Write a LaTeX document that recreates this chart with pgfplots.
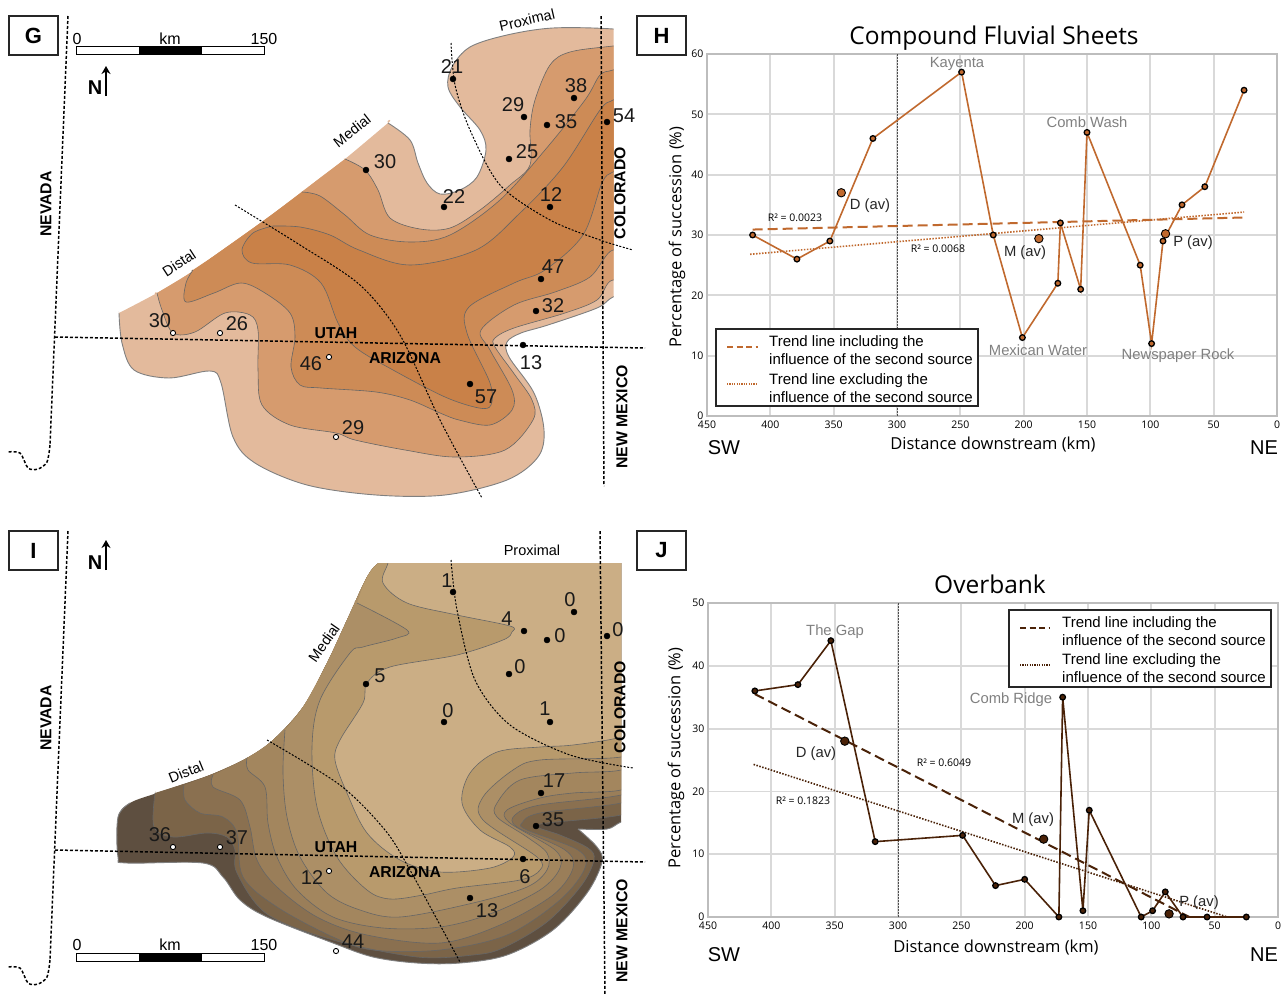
\documentclass[border=0pt]{standalone}
\usepackage{fontspec}
\usepackage{pgfplots}
\usetikzlibrary{arrows.meta}
\pgfplotsset{compat=1.18}
\setmainfont{Liberation Sans}
\newfontfamily\chartf{Open Sans}
\definecolor{ga}{HTML}{E3BA9C}\definecolor{gb}{HTML}{D69B6E}\definecolor{gc}{HTML}{CD8B56}\definecolor{gd}{HTML}{C98148}
\definecolor{ia}{HTML}{5E4F40}\definecolor{ib}{HTML}{7B6448}\definecolor{ic}{HTML}{8A7050}\definecolor{id}{HTML}{9A7E59}
\definecolor{ie}{HTML}{A3865E}\definecolor{if}{HTML}{AC8F66}\definecolor{ig}{HTML}{B89A6C}\definecolor{ih}{HTML}{CBAE85}
\definecolor{hc}{HTML}{C0692E}\definecolor{jc}{HTML}{4A2208}\definecolor{gl}{HTML}{D9D9D9}\definecolor{ax}{HTML}{BDBDBD}
\pgfplotsset{
 pix/.style={at={(0pt,0pt)},anchor=south west,scale only axis,width=1288pt,height=997pt,xmin=0,xmax=1288,ymin=0,ymax=997,y dir=reverse,hide axis,clip=false},
 reg/.style={fill=#1,draw=none,smooth,tension=0.55,no markers,forget plot},
 ct/.style={draw=black!60,line width=0.6pt,smooth,tension=0.55,no markers,forget plot},
 edge/.style={draw=black!50,line width=0.9pt,smooth,tension=0.55,no markers,forget plot},
 bd/.style={black,line width=1.5pt,dash pattern=on 3pt off 2pt,no markers,forget plot},
 arc/.style={black,line width=1pt,dash pattern=on 2pt off 1.6pt,smooth,no markers,forget plot},
 bdot/.style={only marks,mark=*,mark size=3pt,mark options={fill=black,draw=black},forget plot},
 wdot/.style={only marks,mark=*,mark size=2.6pt,mark options={fill=white,draw=black,line width=0.9pt},forget plot},
 chart/.style={scale only axis,width=570pt,x dir=reverse,xmin=0,xmax=450,ymin=0,xtick={0,50,...,450},
   grid=major,major grid style={gl,line width=1.8pt},axis line style={ax,line width=1.8pt},major tick length=0pt,
   tick label style={font=\chartf\fontsize{10.5}{12}\selectfont,/pgf/number format/assume math mode=true},
   xticklabel style={yshift=-1pt},clip=false},
}
\tikzset{
 num/.style={font=\fontsize{20}{22}\selectfont,text=black!90,inner sep=0pt},
 st/.style={font=\bfseries\fontsize{15.8}{18}\selectfont,inner sep=0pt},
 zone/.style={font=\fontsize{14.5}{16}\selectfont,inner sep=0pt},
 site/.style={font=\fontsize{14.8}{16}\selectfont,text=black!50,inner sep=0pt},
 av/.style={font=\fontsize{14.8}{16}\selectfont,text=black!85,inner sep=0pt},
 rr/.style={font=\chartf\fontsize{10.5}{12}\selectfont,inner sep=0pt},
 chl/.style={font=\chartf\fontsize{16.5}{18}\selectfont,inner sep=0pt},
 leg/.style={font=\fontsize{15}{16}\selectfont,anchor=west,inner sep=0pt},
 sc/.style={font=\fontsize{16}{18}\selectfont,inner sep=0pt},
}
\begin{document}
\begin{tikzpicture}
\path[use as bounding box] (0,0) rectangle (1288pt,997pt);
% ---------- MAP G (clipped at its straight right edge)
\begin{axis}[at={(0pt,497pt)},anchor=south west,scale only axis,width=613.5pt,height=500pt,xmin=0,xmax=613.5,ymin=0,ymax=500,y dir=reverse,hide axis,clip=true]
\addplot[reg=ga] coordinates {(119,313)(119,313)(122,343)(134,370)(169,378)(210,371)(221,383)(233,437)(255,463)(307,485)(376,495)(445,495)(507,480)(538,457)(544,430)(534,393)(509,357)(507,342)(521,333)(548,325)(597,308)(613,297)(650,280)(660,150)(650,35)(613,29)(553,28)(507,35)(470,47)(452,67)(448,87)(460,107)(480,130)(486,150)(477,177)(460,190)(440,194)(427,183)(418,163)(410,140)(388,123)(388,123)(345,159)(320,178)(270,216)(221,251)(190,273)(157,293)(119,313)} --cycle;
\addplot[reg=gb] coordinates {(345,159)(345,159)(365,170)(378,190)(390,218)(420,229)(450,228)(480,210)(510,185)(530,165)(530,130)(535,100)(550,65)(570,52)(613,46)(650,42)(660,150)(650,290)(613,280)(597,300)(565,313)(514,328)(495,338)(495,347)(515,375)(532,400)(533,420)(505,450)(455,457)(405,450)(355,440)(336,433)(290,425)(262,405)(258,370)(258,330)(250,315)(225,313)(195,332)(173,333)(162,310)(157,293)(157,293)(190,273)(221,251)(270,216)(320,178)(345,159)} --cycle;
\addplot[reg=gc] coordinates {(302,192)(302,192)(320,196)(345,215)(370,235)(410,242)(450,235)(500,200)(545,150)(585,100)(600,75)(613,70)(640,60)(660,150)(640,265)(613,250)(590,277)(555,292)(514,305)(481,330)(490,350)(512,390)(512,410)(490,425)(459,420)(440,413)(410,400)(376,392)(321,388)(300,385)(291,367)(295,337)(290,313)(265,293)(241,283)(214,293)(186,302)(186,283)(193,270)(193,270)(221,251)(270,216)(302,192)} --cycle;
\addplot[reg=gd] coordinates {(273,226)(300,227)(330,235)(359,250)(410,265)(476,250)(520,213)(563,167)(600,110)(613,100)(640,85)(660,130)(640,160)(613,172)(602,183)(583,235)(545,270)(514,283)(469,307)(467,333)(490,383)(491,405)(479,408)(445,397)(393,370)(355,347)(338,323)(321,283)(290,265)(252,263)(242,250)(253,233)(273,226)} --cycle;
\addplot[ct] coordinates {(345,159)(365,170)(378,190)(390,218)(420,229)(450,228)(480,210)(510,185)(530,165)(530,130)(535,100)(550,65)(570,52)(613,46)(650,42)};
\addplot[ct] coordinates {(650,290)(613,280)(597,300)(565,313)(514,328)(495,338)(495,347)(515,375)(532,400)(533,420)(505,450)(455,457)(405,450)(355,440)(336,433)(290,425)(262,405)(258,370)(258,330)(250,315)(225,313)(195,332)(173,333)(162,310)(157,293)};
\addplot[ct] coordinates {(302,192)(320,196)(345,215)(370,235)(410,242)(450,235)(500,200)(545,150)(585,100)(600,75)(613,70)(640,60)};
\addplot[ct] coordinates {(640,265)(613,250)(590,277)(555,292)(514,305)(481,330)(490,350)(512,390)(512,410)(490,425)(459,420)(440,413)(410,400)(376,392)(321,388)(300,385)(291,367)(295,337)(290,313)(265,293)(241,283)(214,293)(186,302)(186,283)(193,270)};
\addplot[ct] coordinates {(273,226)(300,227)(330,235)(359,250)(410,265)(476,250)(520,213)(563,167)(600,110)(613,100)(640,85)};
\addplot[ct] coordinates {(640,160)(613,172)(602,183)(583,235)(545,270)(514,283)(469,307)(467,333)(490,383)(491,405)(479,408)(445,397)(393,370)(355,347)(338,323)(321,283)(290,265)(252,263)(242,250)(253,233)(273,226)};
\addplot[edge] coordinates {(119,313)(122,343)(134,370)(169,378)(210,371)(221,383)(233,437)(255,463)(307,485)(376,495)(445,495)(507,480)(538,457)(544,430)(534,393)(509,357)(507,342)(521,333)(548,325)(597,308)(613,297)(650,280)};
\addplot[edge] coordinates {(650,35)(613,29)(553,28)(507,35)(470,47)(452,67)(448,87)(460,107)(480,130)(486,150)(477,177)(460,190)(440,194)(427,183)(418,163)(410,140)(388,123)};
\end{axis}
% ---------- MAP I (clipped at its straight top and right edges)
\begin{axis}[at={(0pt,0pt)},anchor=south west,scale only axis,width=621pt,height=434pt,xmin=0,xmax=621,ymin=563,ymax=997,y dir=reverse,hide axis,clip=true]
\addplot[reg=ia] coordinates {(367,577)(380,562)(400,555)(460,530)(560,530)(650,560)(670,700)(650,810)(621,822)(607,829)(578,829)(578,829)(597,847)(602,862)(587,893)(553,930)(507,955)(460,963)(417,963)(373,957)(333,943)(267,917)(240,900)(223,877)(203,863)(127,863)(118,857)(118,817)(130,803)(157,793)(210,775)(247,758)(273,740)(303,707)(327,663)(347,620)(367,577)} --cycle;
\addplot[reg=ib] coordinates {(155,793)(155,793)(154,827)(173,837)(207,833)(227,837)(235,850)(237,873)(267,914)(333,940)(417,957)(473,955)(503,948)(547,922)(581,886)(594,860)(588,848)(560,835)(537,827)(547,823)(621,815)(650,800)(670,700)(650,560)(560,530)(460,530)(400,555)(380,562)(367,577)(347,620)(327,663)(303,707)(273,740)(247,758)(210,775)(155,793)} --cycle;
\addplot[reg=ic] coordinates {(184,785)(184,785)(185,800)(200,813)(223,817)(237,833)(243,877)(277,907)(333,937)(373,950)(440,950)(507,935)(560,900)(585,868)(578,850)(527,830)(522,823)(540,813)(621,803)(650,788)(670,700)(650,560)(560,530)(460,530)(400,555)(380,562)(367,577)(347,620)(327,663)(303,707)(273,740)(247,758)(210,775)(184,785)} --cycle;
\addplot[reg=id] coordinates {(213,775)(213,775)(213,787)(240,800)(250,827)(257,860)(277,887)(317,917)(367,935)(440,943)(500,925)(553,895)(573,868)(565,850)(517,827)(515,815)(540,805)(621,795)(650,780)(670,700)(650,560)(560,530)(460,530)(400,555)(380,562)(367,577)(347,620)(327,663)(303,707)(273,740)(247,758)(213,775)} --cycle;
\addplot[reg=ie] coordinates {(247,758)(247,758)(248,770)(265,787)(268,823)(277,857)(297,890)(333,917)(383,928)(440,927)(490,914)(540,890)(560,868)(555,850)(510,823)(507,810)(540,798)(573,793)(621,790)(650,775)(670,700)(650,560)(560,530)(460,530)(400,555)(380,562)(367,577)(347,620)(327,663)(303,707)(273,740)(247,758)} --cycle;
\addplot[reg=if] coordinates {(285,730)(285,730)(283,773)(287,817)(300,857)(327,893)(360,910)(400,917)(473,903)(527,887)(547,870)(547,853)(527,837)(497,817)(497,803)(520,780)(573,773)(621,770)(650,755)(670,700)(650,560)(560,530)(460,530)(400,555)(380,562)(367,577)(347,620)(327,663)(303,707)(285,730)} --cycle;
\addplot[reg=ig] coordinates {(357,603)(357,603)(407,630)(397,638)(363,647)(350,653)(320,700)(312,747)(317,807)(337,857)(367,890)(390,899)(423,895)(457,888)(520,880)(540,870)(537,857)(483,820)(483,797)(513,770)(540,760)(621,757)(650,742)(670,650)(650,560)(560,530)(460,530)(400,555)(380,562)(367,577)(357,603)} --cycle;
\addplot[reg=ih] coordinates {(392,545)(388,563)(383,583)(407,603)(457,615)(510,626)(512,632)(503,640)(457,655)(390,667)(367,683)(363,703)(340,740)(335,760)(347,793)(367,833)(400,860)(440,872)(490,868)(513,857)(510,847)(480,830)(462,803)(470,773)(497,752)(540,747)(573,745)(621,737)(650,722)(670,640)(650,560)(560,530)(460,530)} --cycle;
\addplot[ct] coordinates {(392,545)(388,563)(383,583)(407,603)(457,615)(510,626)(512,632)(503,640)(457,655)(390,667)(367,683)(363,703)(340,740)(335,760)(347,793)(367,833)(400,860)(440,872)(490,868)(513,857)(510,847)(480,830)(462,803)(470,773)(497,752)(540,747)(573,745)(621,737)(650,722)};
\addplot[ct] coordinates {(357,603)(407,630)(397,638)(363,647)(350,653)(320,700)(312,747)(317,807)(337,857)(367,890)(390,899)(423,895)(457,888)(520,880)(540,870)(537,857)(483,820)(483,797)(513,770)(540,760)(621,757)(650,742)};
\addplot[ct] coordinates {(285,730)(283,773)(287,817)(300,857)(327,893)(360,910)(400,917)(473,903)(527,887)(547,870)(547,853)(527,837)(497,817)(497,803)(520,780)(573,773)(621,770)(650,755)};
\addplot[ct] coordinates {(247,758)(248,770)(265,787)(268,823)(277,857)(297,890)(333,917)(383,928)(440,927)(490,914)(540,890)(560,868)(555,850)(510,823)(507,810)(540,798)(573,793)(621,790)(650,775)};
\addplot[ct] coordinates {(213,775)(213,787)(240,800)(250,827)(257,860)(277,887)(317,917)(367,935)(440,943)(500,925)(553,895)(573,868)(565,850)(517,827)(515,815)(540,805)(621,795)(650,780)};
\addplot[ct] coordinates {(184,785)(185,800)(200,813)(223,817)(237,833)(243,877)(277,907)(333,937)(373,950)(440,950)(507,935)(560,900)(585,868)(578,850)(527,830)(522,823)(540,813)(621,803)(650,788)};
\addplot[ct] coordinates {(155,793)(154,827)(173,837)(207,833)(227,837)(235,850)(237,873)(267,914)(333,940)(417,957)(473,955)(503,948)(547,922)(581,886)(594,860)(588,848)(560,835)(537,827)(547,823)(621,815)(650,800)};
\addplot[edge] coordinates {(650,810)(621,822)(607,829)(578,829)};
\addplot[edge] coordinates {(578,829)(597,847)(602,862)(587,893)(553,930)(507,955)(460,963)(417,963)(373,957)(333,943)(267,917)(240,900)(223,877)(203,863)(127,863)(118,857)(118,817)(130,803)};
\end{axis}
% ---------- boundaries and points
\begin{axis}[pix]
\addplot[bd] coordinates {(68,16)(50,445)};
\addplot[bd,smooth] coordinates {(50,445)(47,462)(38,469)(28,468)(20,453)(7,452)};
\addplot[bd] coordinates {(601,16)(604,486)};
\addplot[bd] coordinates {(55,337)(645,348)};
\addplot[arc] coordinates {(451,43)(455,85)(470,130)(500,185)(550,220)(600,240)(633,250)};
\addplot[arc] coordinates {(235,205)(300,245)(360,285)(400,335)(440,420)(482,498)};
\addplot[bd] coordinates {(68,531)(50,960)};
\addplot[bd,smooth] coordinates {(50,960)(47,977)(38,984)(28,983)(20,968)(7,967)};
\addplot[bd] coordinates {(600,531)(605,995)};
\addplot[bd] coordinates {(55,850)(645,862)};
\addplot[arc] coordinates {(451,560)(457,610)(475,680)(510,725)(570,755)(633,768)};
\addplot[arc] coordinates {(267,740)(340,785)(385,830)(410,870)(460,962)};
\addplot[bdot] coordinates {(453,79)(524,117)(547,125)(574,98)(607,122)(509,159)(550,207)(366,170)(444,207)(541,279)(536,311)(523,345)(470,384)};
\addplot[wdot] coordinates {(173,333)(220,333)(329,357)(336,437)};
\addplot[bdot] coordinates {(453,592)(524,631)(547,640)(574,612)(607,636)(509,674)(550,722)(366,684)(444,722)(541,793)(536,826)(523,859)(470,898)};
\addplot[wdot] coordinates {(173,847)(220,847)(329,871)(336,951)};
\end{axis}
% ---------- CHART H
\begin{axis}[chart,at={(707pt,581pt)},anchor=south west,height=362pt,ymax=60,ytick={0,10,...,60}]
\addplot[black!70,line width=1pt,dash pattern=on 2pt off 1pt,forget plot] coordinates {(300,0)(300,60)};
\addplot[hc,line width=2pt,dash pattern=on 10pt off 5pt,forget plot] coordinates {(414,30.9)(26,32.9)};
\addplot[hc,line width=1.6pt,dash pattern=on 1.5pt off 1.5pt,forget plot] coordinates {(416,26.8)(26,33.8)};
\addplot[hc,line width=1.6pt,mark=*,mark size=2.8pt,mark options={fill=hc,draw=black,line width=1.3pt},forget plot] coordinates {(414,30)(379,26)(353,29)(319,46)(249,57)(224,30)(201,13)(173,22)(171,32)(155,21)(150,47)(108,25)(99,12)(90,29)(75,35)(57,38)(26,54)};
\addplot[only marks,mark=*,mark size=4.2pt,mark options={fill=hc,draw=black,line width=0.9pt},forget plot] coordinates {(344,37)(188,29.4)(88,30.2)};
\end{axis}
% ---------- CHART J
\begin{axis}[chart,at={(708pt,80pt)},anchor=south west,height=314pt,ymax=50,ytick={0,10,...,50}]
\addplot[black!70,line width=1pt,dash pattern=on 2pt off 1pt,forget plot] coordinates {(300,0)(300,50)};
\addplot[jc,line width=2pt,dash pattern=on 10pt off 5pt,forget plot] coordinates {(413,35.5)(70,0)};
\addplot[jc,line width=1.6pt,dash pattern=on 1.5pt off 1.5pt,forget plot] coordinates {(414,24.3)(40,0)};
\addplot[jc,line width=1.6pt,mark=*,mark size=2.8pt,mark options={fill=jc,draw=black,line width=1.3pt},forget plot] coordinates {(413,36)(379,37)(353,44)(318,12)(249,13)(223,5)(200,6)(173,0)(170,35)(154,1)(149,17)(108,0)(99,1)(89,4)(75,0)(56,0)(25,0)};
\addplot[only marks,mark=*,mark size=4.2pt,mark options={fill=jc,draw=black,line width=0.9pt},forget plot] coordinates {(342,28)(185,12.4)(86,0.5)};
\end{axis}
% ---------- OVERLAY TEXT
\begin{axis}[pix]
\draw[black!85,fill=white,line width=1.2pt] (axis cs:716,329) rectangle (axis cs:978,406);
\addplot[hc,line width=1.3pt,dash pattern=on 6pt off 3.5pt,forget plot] coordinates {(727,347)(758,347)};
\addplot[hc,line width=1.3pt,dash pattern=on 1.2pt off 1.2pt,forget plot] coordinates {(727,384)(758,384)};
\node[leg] at (axis cs:769,342.5) {Trend line including the};
\node[leg] at (axis cs:769,359.5) {influence of the second source};
\node[leg] at (axis cs:769,380.5) {Trend line excluding the};
\node[leg] at (axis cs:769,397.5) {influence of the second source};
\draw[black!85,fill=white,line width=1.2pt] (axis cs:1009,610) rectangle (axis cs:1271,687);
\addplot[jc,line width=1.3pt,dash pattern=on 6pt off 3.5pt,forget plot] coordinates {(1020,628)(1050,628)};
\addplot[jc,line width=1.3pt,dash pattern=on 1.2pt off 1.2pt,forget plot] coordinates {(1020,665)(1050,665)};
\node[leg] at (axis cs:1062,623.5) {Trend line including the};
\node[leg] at (axis cs:1062,640.5) {influence of the second source};
\node[leg] at (axis cs:1062,660.5) {Trend line excluding the};
\node[leg] at (axis cs:1062,677.5) {influence of the second source};
\foreach \x/\y/\t in {9/16/G,637/16/H,9/531/I,637/531/J}{
 \edef\tmp{\noexpand\draw[black!85,line width=1.2pt] (axis cs:\x,\y) rectangle (axis cs:\x+49,\y+39);
 \noexpand\node[font=\noexpand\bfseries\noexpand\fontsize{22}{24}\noexpand\selectfont,inner sep=0pt] at (axis cs:\x+24.5,\y+19.5) {\t};}\tmp}
\draw[black,fill=white,line width=0.9pt] (axis cs:76,46.5) rectangle (axis cs:264,54.5);
\fill[black] (axis cs:138.5,46.5) rectangle (axis cs:201.5,54.5);
\node[sc] at (axis cs:77,38.5) {0};\node[sc] at (axis cs:170,38.5) {km};\node[sc] at (axis cs:264,38.5) {150};
\draw[black,fill=white,line width=0.9pt] (axis cs:76,953) rectangle (axis cs:264,961);
\fill[black] (axis cs:138.5,953) rectangle (axis cs:201.5,961);
\node[sc] at (axis cs:77,945) {0};\node[sc] at (axis cs:170,945) {km};\node[sc] at (axis cs:264,945) {150};
\node[font=\bfseries\fontsize{20}{22}\selectfont,inner sep=0pt] at (axis cs:95,88) {N};
\draw[-{Stealth[length=8pt,width=9pt]},black,line width=2.8pt] (axis cs:106,96) -- (axis cs:106,66);
\node[font=\bfseries\fontsize{20}{22}\selectfont,inner sep=0pt] at (axis cs:95,563) {N};
\draw[-{Stealth[length=8pt,width=9pt]},black,line width=2.8pt] (axis cs:106,570) -- (axis cs:106,540);
\foreach \x/\y/\t in {452/67/21,513/105/29,576/86/38,566/122/35,624/116/54,527/152/25,551/195/12,385/162/30,454/197/22,553/267/47,553/306/32,531/363/13,486/397/57,311/364/46,160/321/30,237/324/26,353/428/29,
 447/581/1,507/619/4,570/600/0,560/636/0,618/630/0,520/667/0,545/709/1,380/676/5,448/711/0,554/781/17,553/820/35,525/877/6,487/911/13,312/878/12,160/835/36,237/838/37,353/942/44}{
 \edef\tmp{\noexpand\node[num] at (axis cs:\x,\y) {\t};}\tmp}
\node[zone,rotate=13] at (axis cs:527,20) {Proximal};
\node[zone,rotate=38] at (axis cs:352,131) {Medial};
\node[zone,rotate=33] at (axis cs:179,263) {Distal};
\node[st] at (axis cs:336,333) {UTAH};\node[st] at (axis cs:405,358) {ARIZONA};
\node[st,rotate=90] at (axis cs:46,204) {NEVADA};
\node[st,rotate=90] at (axis cs:620,193) {COLORADO};
\node[st,rotate=90] at (axis cs:622,417) {NEW MEXICO};
\node[zone] at (axis cs:532,550) {Proximal};
\node[zone,rotate=55] at (axis cs:324,643) {Medial};
\node[zone,rotate=22] at (axis cs:186,772) {Distal};
\node[st] at (axis cs:336,847) {UTAH};\node[st] at (axis cs:405,872) {ARIZONA};
\node[st,rotate=90] at (axis cs:46,718) {NEVADA};
\node[st,rotate=90] at (axis cs:620,707) {COLORADO};
\node[st,rotate=90] at (axis cs:622,931) {NEW MEXICO};
\node[font=\chartf\fontsize{24.5}{26}\selectfont,inner sep=0pt] at (axis cs:994,38) {Compound Fluvial Sheets};
\node[chl,rotate=90] at (axis cs:677,237) {Percentage of succession (\%)};
\node[chl] at (axis cs:993,445) {Distance downstream (km)};
\node[font=\fontsize{20}{22}\selectfont,inner sep=0pt] at (axis cs:724,448) {SW};
\node[font=\fontsize{20}{22}\selectfont,inner sep=0pt] at (axis cs:1264,448) {NE};
\node[site] at (axis cs:957,64) {Kayenta};
\node[site] at (axis cs:1087,122) {Comb Wash};
\node[site] at (axis cs:1038,350) {Mexican Water};
\node[site] at (axis cs:1178,356) {Newspaper Rock};
\node[av] at (axis cs:870,206) {D (av)};
\node[av] at (axis cs:1025,253) {M (av)};
\node[av] at (axis cs:1193,243) {P (av)};
\node[rr] at (axis cs:795,218) {R² = 0.0023};
\node[rr] at (axis cs:938,249) {R² = 0.0068};
\node[font=\chartf\fontsize{24.5}{26}\selectfont,inner sep=0pt] at (axis cs:990,584) {Overbank};
\node[chl,rotate=90] at (axis cs:676,758) {Percentage of succession (\%)};
\node[chl] at (axis cs:996,948) {Distance downstream (km)};
\node[font=\fontsize{20}{22}\selectfont,inner sep=0pt] at (axis cs:724,955) {SW};
\node[font=\fontsize{20}{22}\selectfont,inner sep=0pt] at (axis cs:1264,955) {NE};
\node[site] at (axis cs:835,632) {The Gap};
\node[site] at (axis cs:1011,700) {Comb Ridge};
\node[av] at (axis cs:816,754) {D (av)};
\node[av] at (axis cs:1033,820) {M (av)};
\node[av] at (axis cs:1199,903) {P (av)};
\node[rr] at (axis cs:944,763) {R² = 0.6049};
\node[rr] at (axis cs:803,801) {R² = 0.1823};
\end{axis}
\end{tikzpicture}
\end{document}
